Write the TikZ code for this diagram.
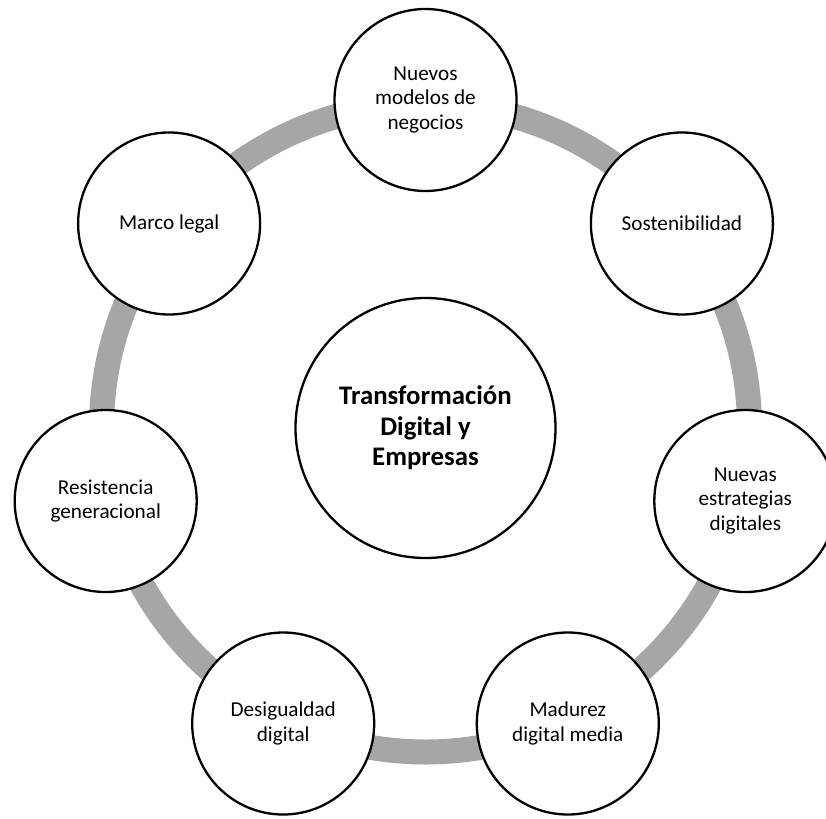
\documentclass[tikz,border=0pt]{standalone}
\usepackage{fontspec}
\setmainfont{Carlito}
\definecolor{ringgray}{HTML}{A6A6A6}
\tikzset{
  ring/.style={draw=ringgray, line width=25pt},
  outer/.style={circle, draw=black, line width=2.3pt, fill=white, minimum size=182pt, inner sep=0pt, align=center, font=\fontsize{21.2}{24.5}\selectfont},
  hub/.style={circle, draw=black, line width=2.3pt, fill=white, minimum size=260pt, inner sep=0pt, align=center, font=\fontsize{26.8}{30.5}\selectfont\bfseries}
}
\begin{document}
\begin{tikzpicture}[x=1pt, y=-1pt]
\useasboundingbox (0,0) rectangle (826,818);
\coordinate (c) at (425.5,428);
\draw[ring] (c) circle (324);
\node[hub] (center) at (c) {Transformación\\Digital y\\Empresas};
\node[outer] (n1) at (425.5,100) {Nuevos\\modelos de\\negocios};
\node[outer] (n2) at (681.9,223.5) {Sostenibilidad};
\node[outer] (n3) at (745.3,501.0) {Nuevas\\estrategias\\digitales};
\node[outer] (n4) at (567.8,723.5) {Madurez\\digital media};
\node[outer] (n5) at (283.2,723.5) {Desigualdad\\digital};
\node[outer] (n6) at (105.7,501.0) {Resistencia\\generacional};
\node[outer] (n7) at (169.1,223.5) {Marco legal};
\end{tikzpicture}
\end{document}
